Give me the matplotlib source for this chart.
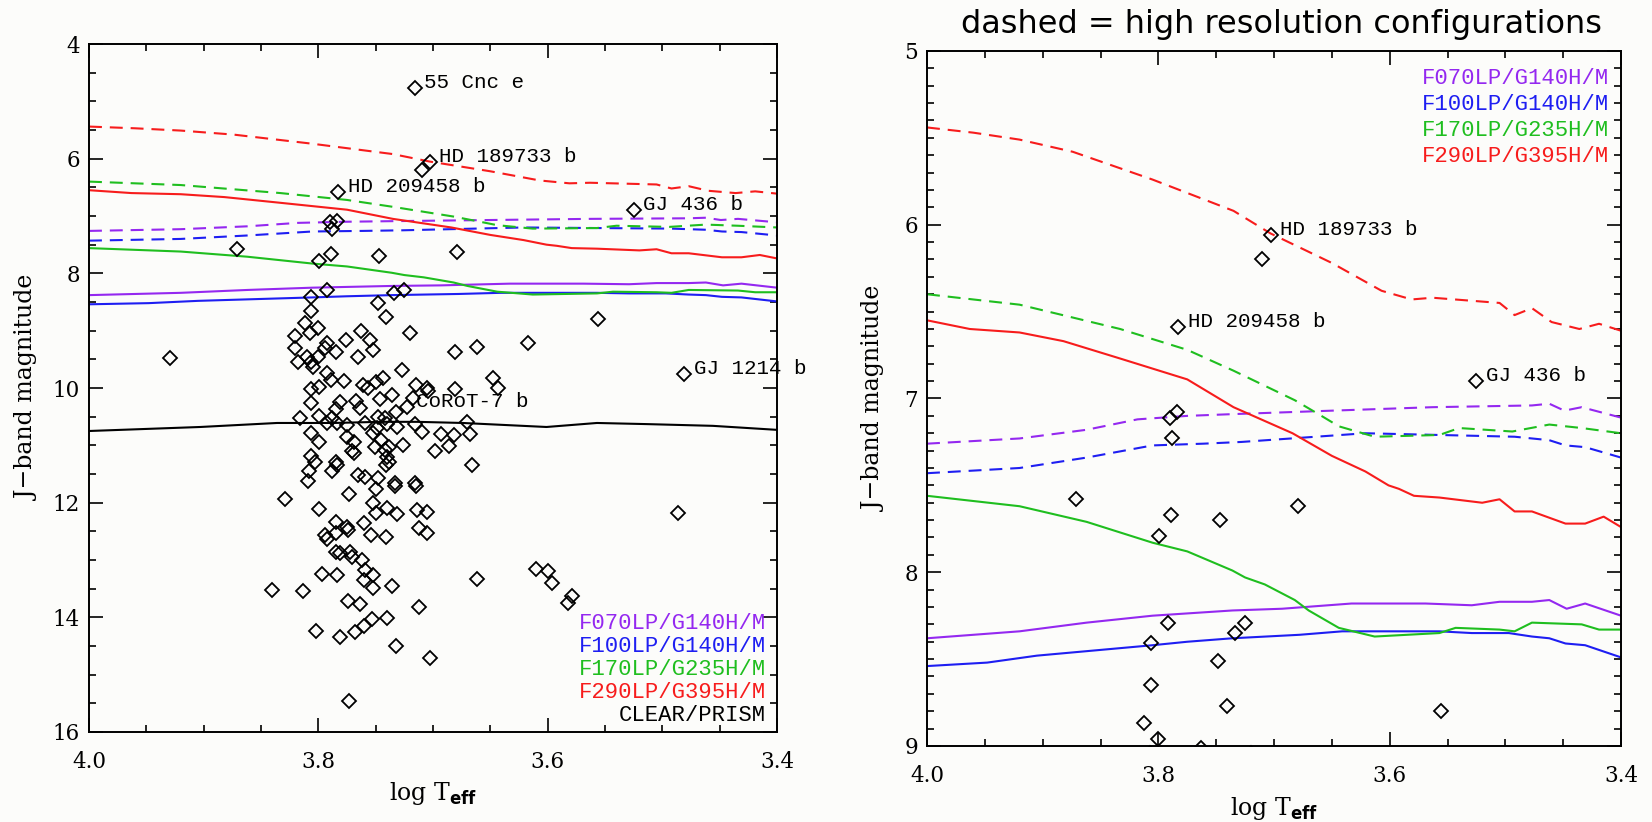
import numpy as np
import matplotlib.pyplot as plt
from matplotlib.ticker import MultipleLocator, FormatStrFormatter

plt.rcParams['font.family'] = 'DejaVu Serif'

# planets (log Teff of host star, J-band magnitude)
teff = [3.710, 3.784, 3.790, 3.788, 3.871, 3.789, 3.799, 3.747, 3.679, 3.792,
        3.806, 3.734, 3.725, 3.748, 3.806, 3.741, 3.812, 3.556, 3.800, 3.720,
        3.820, 3.807, 3.763, 3.776, 3.755, 3.820, 3.792, 3.794, 3.752, 3.785,
        3.810, 3.800, 3.818, 3.806, 3.805, 3.765, 3.929, 3.681, 3.662, 3.617,
        3.727, 3.792, 3.789, 3.778, 3.761, 3.757, 3.750, 3.744, 3.715, 3.705,
        3.704, 3.681, 3.648, 3.643, 3.806, 3.799, 3.806, 3.781, 3.767, 3.746,
        3.736, 3.717, 3.732, 3.764, 3.785, 3.816, 3.799, 3.788, 3.792, 3.784,
        3.775, 3.759, 3.748, 3.742, 3.749, 3.740, 3.731, 3.716, 3.710, 3.693,
        3.682, 3.670, 3.668, 3.806, 3.799, 3.775, 3.769, 3.752, 3.745, 3.751,
        3.771, 3.769, 3.742, 3.726, 3.738, 3.686, 3.698, 3.806, 3.803, 3.785,
        3.784, 3.740, 3.738, 3.741, 3.666, 3.808, 3.788, 3.765, 3.759, 3.748,
        3.733, 3.716, 3.809, 3.750, 3.733, 3.715, 3.773, 3.829, 3.799, 3.752,
        3.740, 3.750, 3.731, 3.714, 3.705, 3.785, 3.760, 3.775, 3.774, 3.785,
        3.754, 3.741, 3.712, 3.705, 3.794, 3.792, 3.785, 3.781, 3.772, 3.771,
        3.762, 3.759, 3.752, 3.760, 3.752, 3.736, 3.797, 3.784, 3.840, 3.813,
        3.662, 3.774, 3.764, 3.712, 3.753, 3.760, 3.740, 3.768, 3.802, 3.781,
        3.732, 3.703, 3.773, 3.610, 3.600, 3.596, 3.579, 3.582, 3.486]
jmag = [6.20, 7.08, 7.11, 7.23, 7.58, 7.67, 7.79, 7.70, 7.62, 8.29,
        8.41, 8.35, 8.29, 8.51, 8.65, 8.77, 8.87, 8.80, 8.96, 9.04,
        9.09, 9.04, 9.01, 9.16, 9.16, 9.30, 9.22, 9.30, 9.34, 9.37,
        9.46, 9.46, 9.55, 9.55, 9.63, 9.46, 9.48, 9.37, 9.29, 9.22,
        9.69, 9.74, 9.86, 9.88, 9.95, 10.00, 9.90, 9.83, 9.95, 10.00,
        10.05, 10.02, 9.83, 10.00, 10.02, 9.98, 10.26, 10.24, 10.23, 10.19,
        10.12, 10.17, 10.42, 10.35, 10.37, 10.52, 10.49, 10.52, 10.61, 10.61,
        10.65, 10.61, 10.51, 10.52, 10.70, 10.63, 10.68, 10.63, 10.77, 10.80,
        10.82, 10.59, 10.80, 10.79, 10.94, 10.85, 10.94, 10.79, 10.91, 11.03,
        11.10, 11.13, 11.08, 10.99, 11.03, 11.01, 11.10, 11.19, 11.29, 11.29,
        11.34, 11.20, 11.29, 11.34, 11.34, 11.45, 11.45, 11.52, 11.55, 11.57,
        11.66, 11.66, 11.62, 11.76, 11.71, 11.71, 11.85, 11.94, 12.11, 12.01,
        12.09, 12.18, 12.20, 12.13, 12.16, 12.34, 12.35, 12.42, 12.48, 12.53,
        12.56, 12.60, 12.44, 12.53, 12.56, 12.63, 12.86, 12.88, 12.86, 12.95,
        13.00, 13.17, 13.26, 13.35, 13.49, 13.45, 13.24, 13.26, 13.52, 13.54,
        13.33, 13.72, 13.77, 13.82, 14.03, 14.15, 14.01, 14.26, 14.24, 14.34,
        14.50, 14.71, 15.46, 13.16, 13.19, 13.40, 13.63, 13.75, 12.18]

# named planets
names = ['55 Cnc e', 'HD 189733 b', 'HD 209458 b', 'GJ 436 b', 'CoRoT-7 b', 'GJ 1214 b']
name_teff = [3.716, 3.703, 3.783, 3.525, 3.723, 3.481]
name_jmag = [4.77, 6.06, 6.59, 6.90, 10.33, 9.76]

configs = ['F070LP/G140H/M', 'F100LP/G140H/M', 'F170LP/G235H/M', 'F290LP/G395H/M']
colors = ['#9428f0', '#1e1ef2', '#1fbe1f', '#f71c1c']

# saturation limits, medium resolution (solid)
f070_m_t = [4.0, 3.92, 3.862, 3.805, 3.736, 3.693, 3.633, 3.569, 3.529, 3.505, 3.477, 3.462, 3.447, 3.431, 3.4]
f070_m_j = [8.38, 8.34, 8.29, 8.25, 8.22, 8.21, 8.18, 8.18, 8.19, 8.17, 8.17, 8.16, 8.21, 8.18, 8.25]
f100_m_t = [4.0, 3.948, 3.905, 3.805, 3.775, 3.736, 3.678, 3.641, 3.557, 3.529, 3.497, 3.477, 3.462, 3.448, 3.431, 3.4]
f100_m_j = [8.54, 8.52, 8.48, 8.42, 8.40, 8.38, 8.36, 8.34, 8.34, 8.35, 8.35, 8.37, 8.38, 8.41, 8.42, 8.49]
f170_m_t = [4.0, 3.92, 3.862, 3.805, 3.775, 3.736, 3.725, 3.708, 3.682, 3.670, 3.644, 3.613, 3.557, 3.543,
            3.505, 3.492, 3.477, 3.434, 3.419, 3.4]
f170_m_j = [7.56, 7.62, 7.71, 7.83, 7.88, 7.99, 8.03, 8.07, 8.16, 8.22, 8.32, 8.37, 8.35, 8.32,
            8.33, 8.34, 8.29, 8.30, 8.33, 8.33]
f290_m_t = [4.0, 3.963, 3.92, 3.882, 3.833, 3.775, 3.735, 3.684, 3.650, 3.621, 3.601, 3.592, 3.579, 3.557,
            3.520, 3.505, 3.492, 3.477, 3.448, 3.431, 3.415, 3.4]
f290_m_j = [6.55, 6.60, 6.62, 6.67, 6.77, 6.89, 7.05, 7.20, 7.33, 7.42, 7.50, 7.52, 7.56, 7.57,
            7.60, 7.58, 7.65, 7.65, 7.72, 7.72, 7.68, 7.74]

# high resolution (dashed)
f070_h_t = [4.0, 3.92, 3.862, 3.818, 3.775, 3.736, 3.65, 3.563, 3.477, 3.462, 3.449, 3.434, 3.4]
f070_h_j = [7.26, 7.23, 7.18, 7.12, 7.10, 7.09, 7.07, 7.05, 7.04, 7.03, 7.07, 7.05, 7.11]
f100_h_t = [4.0, 3.92, 3.862, 3.805, 3.761, 3.728, 3.621, 3.557, 3.492, 3.462, 3.448, 3.431, 3.4]
f100_h_j = [7.43, 7.40, 7.34, 7.27, 7.26, 7.25, 7.20, 7.21, 7.22, 7.24, 7.27, 7.28, 7.34]
f170_h_t = [4.0, 3.92, 3.833, 3.775, 3.735, 3.682, 3.659, 3.644, 3.613, 3.557, 3.54, 3.494, 3.462, 3.434, 3.4]
f170_h_j = [6.40, 6.46, 6.60, 6.72, 6.84, 7.01, 7.10, 7.16, 7.22, 7.21, 7.17, 7.19, 7.15, 7.17, 7.20]
f290_h_t = [4.0, 3.96, 3.92, 3.874, 3.805, 3.77, 3.735, 3.703, 3.650, 3.607, 3.581, 3.563, 3.505, 3.492,
            3.477, 3.460, 3.436, 3.419, 3.4]
f290_h_j = [5.44, 5.47, 5.51, 5.58, 5.74, 5.83, 5.92, 6.05, 6.22, 6.38, 6.43, 6.42, 6.45, 6.52,
            6.48, 6.56, 6.60, 6.57, 6.61]

# CLEAR/PRISM
prism_t = [4.0, 3.903, 3.836, 3.787, 3.746, 3.714, 3.674, 3.601, 3.557, 3.513, 3.456, 3.4]
prism_j = [10.75, 10.68, 10.61, 10.61, 10.59, 10.59, 10.61, 10.68, 10.61, 10.63, 10.66, 10.73]

med = [(f070_m_t, f070_m_j), (f100_m_t, f100_m_j), (f170_m_t, f170_m_j), (f290_m_t, f290_m_j)]
high = [(f070_h_t, f070_h_j), (f100_h_t, f100_h_j), (f170_h_t, f170_h_j), (f290_h_t, f290_h_j)]

bg = '#fcfcfa'
fig = plt.figure(figsize=(16.52, 8.22), dpi=100, facecolor=bg)
ax1 = fig.add_axes([0.05387, 0.10949, 0.41646, 0.83698])
ax2 = fig.add_axes([0.56114, 0.09246, 0.42010, 0.84550])


def draw(ax, ylim, ymajor, yminor, prism):
    ax.set_facecolor(bg)
    for (t, j), c in zip(high, colors):
        ax.plot(t, j, color=c, lw=1.5, dashes=(6.2, 3.8))
    for (t, j), c in zip(med, colors):
        ax.plot(t, j, color=c, lw=1.5)
    if prism:
        ax.plot(prism_t, prism_j, color='k', lw=1.5)
    ax.plot(teff + name_teff, jmag + name_jmag, 'D', ms=7, mfc='none', mec='k', mew=1.3)
    for n, t, j in zip(names, name_teff, name_jmag):
        ax.annotate(n, (t, j), xytext=(7, 4), textcoords='offset points',
                    ha='left', va='center', fontsize=15, family='Liberation Mono')
    ax.set_xlim(4.0, 3.4)
    ax.set_ylim(*ylim)
    ax.xaxis.set_major_locator(MultipleLocator(0.2))
    ax.xaxis.set_minor_locator(MultipleLocator(0.05))
    ax.xaxis.set_major_formatter(FormatStrFormatter('%.1f'))
    ax.yaxis.set_major_locator(MultipleLocator(ymajor))
    ax.yaxis.set_minor_locator(MultipleLocator(yminor))
    ax.tick_params(which='both', direction='in', top=True, right=True, width=1.2, labelsize=15.5)
    ax.tick_params(which='major', length=10)
    ax.tick_params(which='minor', length=5)
    ax.tick_params(axis='x', pad=14)
    ax.tick_params(axis='y', pad=6.5)
    for s in ax.spines.values():
        s.set_linewidth(1.4)
    ax.set_xlabel(r'log T$_{\mathbf{eff}}$', fontsize=17)
    ax.set_ylabel('J\u2212band magnitude', fontsize=17)


draw(ax1, (16, 4), 2, 0.5, True)
draw(ax2, (9, 5), 1, 0.1, False)

ax1.xaxis.set_label_coords(0.5, -0.070)
ax1.yaxis.set_label_coords(-0.073, 0.5)
ax2.xaxis.set_label_coords(0.5, -0.0705)
ax2.yaxis.set_label_coords(-0.059, 0.5)

# legends as coloured text
for i, (lab, c) in enumerate(zip(configs + ['CLEAR/PRISM'], colors + ['k'])):
    ax1.text(0.984, 0.158 - i * 0.0334, lab, color=c, transform=ax1.transAxes,
             ha='right', va='center', fontsize=16, family='Liberation Mono')
for i, (lab, c) in enumerate(zip(configs, colors)):
    ax2.text(0.983, 0.960 - i * 0.0374, lab, color=c, transform=ax2.transAxes,
             ha='right', va='center', fontsize=16, family='Liberation Mono')

fig.text(0.776, 0.96, 'dashed = high resolution configurations', family='DejaVu Sans',
         fontsize=23, ha='center', va='baseline')

fig.savefig('out.png', dpi=100, facecolor=bg)
